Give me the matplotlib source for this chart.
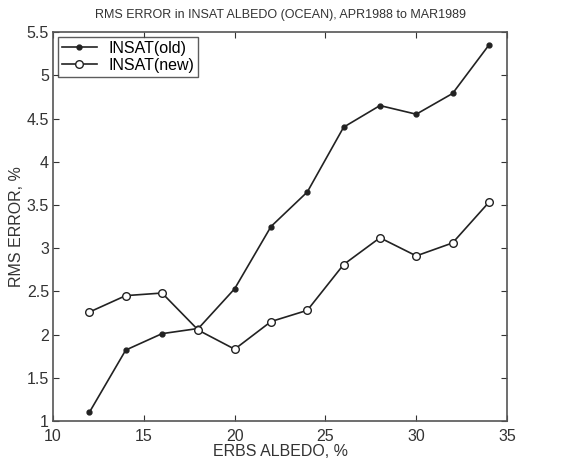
import matplotlib.pyplot as plt

# ERBS albedo (%) and RMS error (%)
erbs = [12, 14, 16, 18, 20, 22, 24, 26, 28, 30, 32, 34]
insat_old = [1.1, 1.82, 2.01, 2.07, 2.53, 3.25, 3.65, 4.40, 4.65, 4.55, 4.79, 5.35]
insat_new = [2.26, 2.45, 2.48, 2.05, 1.83, 2.15, 2.28, 2.81, 3.12, 2.91, 3.06, 3.53]

xticks = [10, 15, 20, 25, 30, 35]
yticks = [1, 1.5, 2, 2.5, 3, 3.5, 4, 4.5, 5, 5.5]
ytick_labels = ["1", "1.5", "2", "2.5", "3", "3.5", "4", "4.5", "5", "5.5"]

plt.rcParams['font.family'] = ['Liberation Sans', 'DejaVu Sans']

fig = plt.figure(figsize=(5.71, 4.59), dpi=100)
ax = fig.add_axes([0.093, 0.083, 0.795, 0.847])

col = '#222222'
ax.plot(erbs, insat_old, '-', color=col, lw=1.2, marker='o', ms=3.5,
        mfc=col, mec=col, label='INSAT(old)')
ax.plot(erbs, insat_new, '-', color=col, lw=1.2, marker='o', ms=5.5,
        mfc='white', mec=col, mew=1.0, label='INSAT(new)')

ax.set_xlim(10, 35)
ax.set_ylim(1, 5.5)
ax.set_xticks(xticks)
ax.set_yticks(yticks)
ax.set_yticklabels(ytick_labels)
ax.tick_params(direction='in', length=4, top=True, right=True,
               labelsize=11.5, colors='#333333')
ax.tick_params(axis='x', pad=6)
ax.tick_params(axis='y', pad=3)
for s in ax.spines.values():
    s.set_color('#555555')
    s.set_linewidth(1.2)

ax.set_xlabel('ERBS ALBEDO, %', fontsize=11.5, color='#333333', labelpad=0)
ax.set_ylabel('RMS ERROR, %', fontsize=11.5, color='#333333', labelpad=2)
ax.set_title('RMS ERROR in INSAT ALBEDO (OCEAN), APR1988 to MAR1989',
             fontsize=9, color='#333333', pad=10)

leg = ax.legend(loc='upper left', fontsize=11.5, frameon=True, fancybox=False,
                borderaxespad=0.3, handlelength=2.2, borderpad=0.25,
                labelspacing=0.1, handletextpad=0.7)
leg.get_frame().set_edgecolor('#333333')
leg.get_frame().set_linewidth(1.0)

fig.savefig('out.png', dpi=100)
